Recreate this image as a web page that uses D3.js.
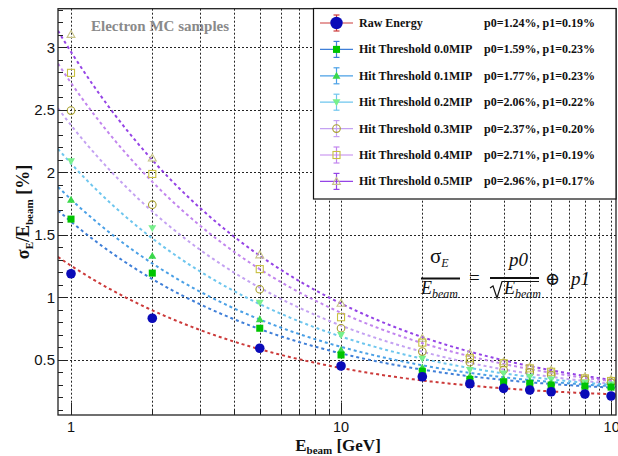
<!DOCTYPE html>
<html><head><meta charset="utf-8">
<script src="https://cdn.jsdelivr.net/npm/d3@7"></script>
<style>
html,body{margin:0;padding:0;background:#fff;}
svg{display:block;}
.serif{font-family:'Liberation Serif','DejaVu Serif',serif;}
.sans{font-family:'Liberation Sans','DejaVu Sans',sans-serif;}
</style>
</head><body>
<svg id="chart" width="618" height="456"></svg>
<script>
const energies = [1, 2, 5, 10, 20, 30, 40, 50, 60, 80, 100];
const seriesNames = ["Raw Energy", "Hit Threshold 0.0MIP", "Hit Threshold 0.1MIP", "Hit Threshold 0.2MIP",
  "Hit Threshold 0.3MIP", "Hit Threshold 0.4MIP", "Hit Threshold 0.5MIP"];
const rawEnergy = [1.19, 0.834, 0.594, 0.452, 0.366, 0.31, 0.273, 0.26, 0.246, 0.228, 0.212];
const mip00 = [1.627, 1.195, 0.754, 0.54, 0.41, 0.345, 0.326, 0.313, 0.30, 0.29, 0.283];
const mip01 = [1.782, 1.333, 0.826, 0.58, 0.44, 0.37, 0.345, 0.33, 0.315, 0.30, 0.292];
const mip02 = [2.089, 1.555, 0.959, 0.70, 0.51, 0.42, 0.393, 0.366, 0.345, 0.318, 0.305];
const mip03 = [2.495, 1.742, 1.066, 0.754, 0.567, 0.482, 0.42, 0.401, 0.38, 0.34, 0.318];
const mip04 = [2.797, 1.988, 1.227, 0.842, 0.639, 0.514, 0.474, 0.433, 0.406, 0.353, 0.332];
const mip05 = [3.104, 2.116, 1.341, 0.954, 0.674, 0.554, 0.486, 0.446, 0.42, 0.366, 0.345];
const p0Values = [1.24, 1.59, 1.77, 2.06, 2.37, 2.71, 2.96];
const p1Values = [0.19, 0.23, 0.23, 0.22, 0.20, 0.19, 0.17];
const yMajorTicks = [0.5, 1, 1.5, 2, 2.5, 3];
const yTickLabels = ["0.5", "1", "1.5", "2", "2.5", "3"];
const xLabelTicks = [1, 10, 100];
const xTickLabels = ["1", "10", "10\u00B2"];

const seriesValues = [rawEnergy, mip00, mip01, mip02, mip03, mip04, mip05];
const markerShapes = ["circle", "square", "triangle", "triangleDown", "circle", "square", "triangle"];
const markerFilled = [true, true, true, true, false, false, false];
const markerColors = ["#0a0ab8", "#00c400", "#3ad84a", "#78f08c", "#a8a030", "#c8c040", "#c8c488"];
const lineColors = ["#cc3a3a", "#3f7fd8", "#4aa0e6", "#6ec6ee", "#c4a2f2", "#c285ee", "#9544e6"];

const svg = d3.select("#chart");
const L = 58, R = 616, T = 8.7, B = 415;
const x = d3.scaleLog().domain([0.895, 104.3]).range([L, R]);
const y = d3.scaleLinear().domain([0.06, 3.31]).range([B, T]);

svg.append("rect").attr("width", 618).attr("height", 456).attr("fill", "#fff");

// grid
const gx = [];
for (let d = 1; d <= 100; d *= 10) for (let k = 1; k < 10; k++) { const v = d * k; if (v <= 100) gx.push(v); }
const grid = svg.append("g").attr("stroke", "#000").attr("stroke-width", 1).attr("stroke-dasharray", "2,2").attr("opacity", 0.85);
grid.selectAll("line.gx").data(gx).enter().append("line")
  .attr("x1", d => Math.round(x(d)) + 0.5).attr("x2", d => Math.round(x(d)) + 0.5).attr("y1", T).attr("y2", B);
grid.selectAll("line.gy").data(yMajorTicks).enter().append("line")
  .attr("x1", L).attr("x2", R).attr("y1", d => Math.round(y(d)) + 0.5).attr("y2", d => Math.round(y(d)) + 0.5);

// fit curves
svg.append("clipPath").attr("id", "clip").append("rect").attr("x", L).attr("y", T).attr("width", R - L).attr("height", B - T);
const fitE = d3.range(0, 301).map(i => Math.pow(10, Math.log10(0.895) + i * (Math.log10(104.3) - Math.log10(0.895)) / 300));
const fitLine = d3.line().x(d => x(d[0])).y(d => y(d[1]));
const fits = svg.append("g").attr("clip-path", "url(#clip)");
for (let s = seriesValues.length - 1; s >= 0; s--) {
  const pts = fitE.map(e => [e, Math.sqrt(p0Values[s] * p0Values[s] / e + p1Values[s] * p1Values[s])]);
  fits.append("path").attr("d", fitLine(pts)).attr("fill", "none")
    .attr("stroke", lineColors[s]).attr("stroke-width", 2).attr("stroke-dasharray", "3,3");
}

function drawMarker(g, shape, filled, color, cx, cy, h) {
  const fill = filled ? color : "none";
  const sw = filled ? 0 : 1.1;
  if (shape === "circle") {
    g.append("circle").attr("cx", cx).attr("cy", cy).attr("r", filled ? h : h - 0.6).attr("fill", fill).attr("stroke", color).attr("stroke-width", sw);
  } else if (shape === "square") {
    const q = h * 0.8;
    g.append("rect").attr("x", cx - q).attr("y", cy - q).attr("width", 2 * q).attr("height", 2 * q).attr("fill", fill).attr("stroke", color).attr("stroke-width", sw);
  } else if (shape === "triangle") {
    const q = h * 0.9;
    g.append("path").attr("d", `M${cx},${cy - q}L${cx + q},${cy + q * 0.75}L${cx - q},${cy + q * 0.75}Z`).attr("fill", fill).attr("stroke", color).attr("stroke-width", sw);
  } else {
    const q = h * 0.9;
    g.append("path").attr("d", `M${cx},${cy + q}L${cx + q},${cy - q * 0.75}L${cx - q},${cy - q * 0.75}Z`).attr("fill", fill).attr("stroke", color).attr("stroke-width", sw);
  }
}

// markers
const marks = svg.append("g");
for (let s = seriesValues.length - 1; s >= 0; s--) {
  seriesValues[s].forEach((v, i) => {
    drawMarker(marks, markerShapes[s], markerFilled[s], markerColors[s], x(energies[i]), y(v), s === 0 ? 4.8 : 4.4);
  });
}

// frame
svg.append("rect").attr("x", L).attr("y", T).attr("width", R - L).attr("height", B - T).attr("fill", "none").attr("stroke", "#222").attr("stroke-width", 1.3);

// ticks
const yMinor = d3.range(1, 34).map(i => i / 10).filter(v => v > 0.06 && v < 3.31);
const axg = svg.append("g").attr("stroke", "#222").attr("stroke-width", 1);
axg.selectAll("line.ym").data(yMinor).enter().append("line")
  .attr("x1", L).attr("x2", d => L + (Math.abs(d * 2 - Math.round(d * 2)) < 1e-6 ? 9 : 5))
  .attr("y1", d => Math.round(y(d)) + 0.5).attr("y2", d => Math.round(y(d)) + 0.5);
axg.selectAll("line.xm").data(gx).enter().append("line")
  .attr("x1", d => Math.round(x(d)) + 0.5).attr("x2", d => Math.round(x(d)) + 0.5)
  .attr("y1", B).attr("y2", d => B - (xLabelTicks.includes(d) ? 12 : 6));

svg.append("g").selectAll("text").data(yMajorTicks).enter().append("text").attr("class", "sans")
  .attr("x", 55).attr("y", d => y(d)).attr("dy", "0.36em").attr("text-anchor", "end")
  .attr("font-size", 15).attr("fill", "#111")
  .text((d, i) => yTickLabels[i]);
svg.append("g").selectAll("text").data(xLabelTicks).enter().append("text").attr("class", "sans")
  .attr("x", d => x(d) + (d === 100 ? 3 : 0)).attr("y", 432).attr("text-anchor", "middle")
  .attr("font-size", 14.5).attr("fill", "#111")
  .text((d, i) => xTickLabels[i]);

// axis titles
const xt = svg.append("text").attr("class", "serif").attr("x", 338).attr("y", 451).attr("text-anchor", "middle")
  .attr("font-weight", "bold").attr("font-size", 17).attr("fill", "#111");
xt.append("tspan").text("E");
xt.append("tspan").attr("font-size", 11).attr("dy", 3).text("beam");
xt.append("tspan").attr("dy", -3).text(" [GeV]");

const yt = svg.append("text").attr("class", "serif").attr("transform", "translate(29,212) rotate(-90)").attr("text-anchor", "middle")
  .attr("font-weight", "bold").attr("font-size", 18).attr("fill", "#111");
yt.append("tspan").text("\u03C3");
yt.append("tspan").attr("font-size", 11).attr("dy", 4).text("E");
yt.append("tspan").attr("dy", -4).text("/E");
yt.append("tspan").attr("font-size", 11).attr("dy", 4).text("beam");
yt.append("tspan").attr("dy", -4).text(" [%]");

// sample label
svg.append("text").attr("class", "serif").attr("x", 91).attr("y", 31)
  .attr("font-weight", "bold").attr("font-size", 15).attr("fill", "#8a8a8a").text("Electron MC samples");

// formula
const fg = svg.append("g").attr("class", "serif").attr("fill", "#111");
const t1 = fg.append("text").attr("x", 430).attr("y", 263).attr("font-size", 21);
t1.append("tspan").text("\u03C3");
t1.append("tspan").attr("font-size", 12).attr("font-style", "italic").attr("dy", 4).text("E");
fg.append("line").attr("x1", 421).attr("x2", 460).attr("y1", 278.5).attr("y2", 278.5).attr("stroke", "#111").attr("stroke-width", 2);
const t2 = fg.append("text").attr("x", 421).attr("y", 294).attr("font-size", 18).attr("font-style", "italic");
t2.append("tspan").text("E");
t2.append("tspan").attr("font-size", 12).attr("dy", 4).text("beam");
fg.append("text").attr("x", 469).attr("y", 284).attr("font-size", 19).text("=");
fg.append("text").attr("x", 509).attr("y", 266).attr("font-size", 19).attr("font-style", "italic").text("p0");
fg.append("line").attr("x1", 490).attr("x2", 539).attr("y1", 278).attr("y2", 278).attr("stroke", "#111").attr("stroke-width", 2);
fg.append("path").attr("d", "M490,288 L493,286 L497,298 L502,281.5 L539,281.5").attr("fill", "none").attr("stroke", "#111").attr("stroke-width", 1.2);
const t3 = fg.append("text").attr("x", 504).attr("y", 294).attr("font-size", 18).attr("font-style", "italic");
t3.append("tspan").text("E");
t3.append("tspan").attr("font-size", 12).attr("dy", 4).text("beam");
fg.append("text").attr("x", 545).attr("y", 285).attr("font-size", 18).text("\u2295");
fg.append("text").attr("x", 571).attr("y", 285).attr("font-size", 19).attr("font-style", "italic").text("p1");

// legend
const lg = svg.append("g");
lg.append("rect").attr("x", 313.5).attr("y", 8.5).attr("width", R - 313.5).attr("height", 190.5).attr("fill", "#fff").attr("stroke", "#111").attr("stroke-width", 1.2);
seriesNames.forEach((name, s) => {
  const cy = 23 + s * 26.4;
  lg.append("line").attr("x1", 320).attr("x2", 353).attr("y1", cy).attr("y2", cy).attr("stroke", lineColors[s]).attr("stroke-width", 1.2);
  lg.append("line").attr("x1", 336.5).attr("x2", 336.5).attr("y1", cy - 8).attr("y2", cy + 8).attr("stroke", lineColors[s]).attr("stroke-width", 1.2);
  lg.append("line").attr("x1", 333.5).attr("x2", 339.5).attr("y1", cy - 8).attr("y2", cy - 8).attr("stroke", lineColors[s]).attr("stroke-width", 1.2);
  lg.append("line").attr("x1", 333.5).attr("x2", 339.5).attr("y1", cy + 8).attr("y2", cy + 8).attr("stroke", lineColors[s]).attr("stroke-width", 1.2);
  drawMarker(lg, markerShapes[s], markerFilled[s], markerColors[s], 336.5, cy, s === 0 ? 6.2 : 4.4);
  lg.append("text").attr("class", "serif").attr("x", 359).attr("y", cy + 4).attr("font-weight", "bold")
    .attr("font-size", 12).attr("fill", "#111").text(name);
  lg.append("text").attr("class", "serif").attr("x", 595).attr("y", cy + 4).attr("text-anchor", "end").attr("font-weight", "bold")
    .attr("font-size", 12).attr("fill", "#111").text(`p0=${p0Values[s].toFixed(2)}%, p1=${p1Values[s].toFixed(2)}%`);
});
</script>
</body></html>
